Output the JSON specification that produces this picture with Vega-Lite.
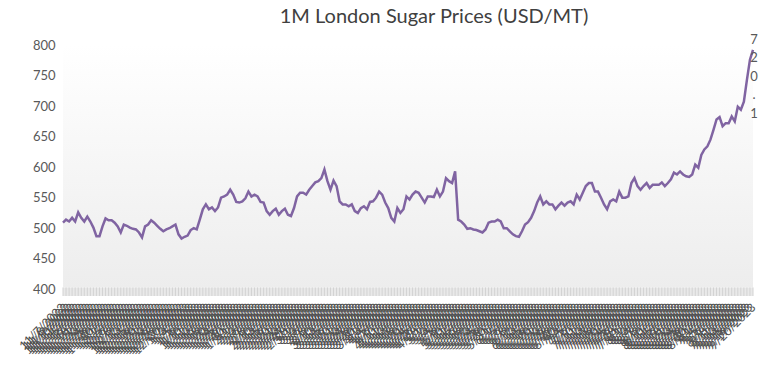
{
  "$schema": "https://vega.github.io/schema/vega-lite/v6.json",
  "width": 690,
  "height": 251,
  "autosize": "none",
  "padding": {"left": 63, "top": 45, "right": 22, "bottom": 89},
  "background": "white",
  "config": {"view": {"stroke": null}, "font": "Lato", "axisY": {"labelOverlap": false, "domain": false, "ticks": false, "grid": false, "labelFontSize": 13, "labelColor": "#595959", "labelPadding": 8, "labelFont": "Lato", "title": null}},
  "title": {"text": "1M London Sugar Prices (USD/MT)", "fontSize": 20, "fontWeight": "normal", "color": "#404040", "font": "Lato", "offset": 7, "dx": 26, "anchor": "middle"},
  "data": {"values": [
    {"d":"11/7/2022","v":509},{"d":"11/8/2022","v":514},{"d":"11/9/2022","v":511},{"d":"11/10/2022","v":517},{"d":"11/11/2022","v":511},
    {"d":"11/14/2022","v":526},{"d":"11/15/2022","v":517},{"d":"11/16/2022","v":511},{"d":"11/17/2022","v":519},{"d":"11/18/2022","v":511},
    {"d":"11/21/2022","v":501},{"d":"11/22/2022","v":487},{"d":"11/23/2022","v":487},{"d":"11/24/2022","v":503},{"d":"11/25/2022","v":516},
    {"d":"11/28/2022","v":513},{"d":"11/29/2022","v":513},{"d":"11/30/2022","v":509},{"d":"12/1/2022","v":503},{"d":"12/2/2022","v":493},
    {"d":"12/5/2022","v":506},{"d":"12/6/2022","v":504},{"d":"12/7/2022","v":501},{"d":"12/8/2022","v":499},{"d":"12/9/2022","v":498},
    {"d":"12/12/2022","v":493},{"d":"12/13/2022","v":485},{"d":"12/14/2022","v":503},{"d":"12/15/2022","v":506},{"d":"12/16/2022","v":513},
    {"d":"12/19/2022","v":509},{"d":"12/20/2022","v":504},{"d":"12/21/2022","v":499},{"d":"12/22/2022","v":495},{"d":"12/23/2022","v":498},
    {"d":"12/26/2022","v":500},{"d":"12/27/2022","v":503},{"d":"12/28/2022","v":506},{"d":"12/29/2022","v":490},{"d":"12/30/2022","v":483},
    {"d":"1/2/2023","v":486},{"d":"1/3/2023","v":488},{"d":"1/4/2023","v":497},{"d":"1/5/2023","v":500},{"d":"1/6/2023","v":498},
    {"d":"1/9/2023","v":514},{"d":"1/10/2023","v":531},{"d":"1/11/2023","v":539},{"d":"1/12/2023","v":531},{"d":"1/13/2023","v":534},
    {"d":"1/16/2023","v":528},{"d":"1/17/2023","v":534},{"d":"1/18/2023","v":550},{"d":"1/19/2023","v":552},{"d":"1/20/2023","v":555},
    {"d":"1/23/2023","v":563},{"d":"1/24/2023","v":555},{"d":"1/25/2023","v":543},{"d":"1/26/2023","v":542},{"d":"1/27/2023","v":544},
    {"d":"1/30/2023","v":549},{"d":"1/31/2023","v":560},{"d":"2/1/2023","v":552},{"d":"2/2/2023","v":555},{"d":"2/3/2023","v":552},
    {"d":"2/6/2023","v":543},{"d":"2/7/2023","v":542},{"d":"2/8/2023","v":528},{"d":"2/9/2023","v":522},{"d":"2/10/2023","v":528},
    {"d":"2/13/2023","v":532},{"d":"2/14/2023","v":522},{"d":"2/15/2023","v":528},{"d":"2/16/2023","v":532},{"d":"2/17/2023","v":522},
    {"d":"2/20/2023","v":520},{"d":"2/21/2023","v":533},{"d":"2/22/2023","v":552},{"d":"2/23/2023","v":558},{"d":"2/24/2023","v":558},
    {"d":"2/27/2023","v":555},{"d":"2/28/2023","v":563},{"d":"3/1/2023","v":569},{"d":"3/2/2023","v":575},{"d":"3/3/2023","v":577},
    {"d":"3/6/2023","v":582},{"d":"3/7/2023","v":596},{"d":"3/8/2023","v":577},{"d":"3/9/2023","v":563},{"d":"3/10/2023","v":578},
    {"d":"3/13/2023","v":569},{"d":"3/14/2023","v":544},{"d":"3/15/2023","v":539},{"d":"3/16/2023","v":539},{"d":"3/17/2023","v":536},
    {"d":"3/20/2023","v":539},{"d":"3/21/2023","v":528},{"d":"3/22/2023","v":525},{"d":"3/23/2023","v":533},{"d":"3/24/2023","v":536},
    {"d":"3/27/2023","v":531},{"d":"3/28/2023","v":543},{"d":"3/29/2023","v":544},{"d":"3/30/2023","v":550},{"d":"3/31/2023","v":560},
    {"d":"4/3/2023","v":555},{"d":"4/4/2023","v":542},{"d":"4/5/2023","v":533},{"d":"4/6/2023","v":517},{"d":"4/7/2023","v":511},
    {"d":"4/10/2023","v":533},{"d":"4/11/2023","v":525},{"d":"4/12/2023","v":531},{"d":"4/13/2023","v":552},{"d":"4/14/2023","v":547},
    {"d":"4/17/2023","v":555},{"d":"4/18/2023","v":560},{"d":"4/19/2023","v":558},{"d":"4/20/2023","v":550},{"d":"4/21/2023","v":542},
    {"d":"4/24/2023","v":552},{"d":"4/25/2023","v":552},{"d":"4/26/2023","v":551},{"d":"4/27/2023","v":563},{"d":"4/28/2023","v":552},
    {"d":"5/1/2023","v":560},{"d":"5/2/2023","v":582},{"d":"5/3/2023","v":577},{"d":"5/4/2023","v":574},{"d":"5/5/2023","v":593},
    {"d":"5/8/2023","v":514},{"d":"5/9/2023","v":511},{"d":"5/10/2023","v":506},{"d":"5/11/2023","v":499},{"d":"5/12/2023","v":500},
    {"d":"5/15/2023","v":498},{"d":"5/16/2023","v":497},{"d":"5/17/2023","v":495},{"d":"5/18/2023","v":493},{"d":"5/19/2023","v":498},
    {"d":"5/22/2023","v":509},{"d":"5/23/2023","v":511},{"d":"5/24/2023","v":511},{"d":"5/25/2023","v":514},{"d":"5/26/2023","v":511},
    {"d":"5/29/2023","v":500},{"d":"5/30/2023","v":500},{"d":"5/31/2023","v":495},{"d":"6/1/2023","v":490},{"d":"6/2/2023","v":487},
    {"d":"6/5/2023","v":486},{"d":"6/6/2023","v":495},{"d":"6/7/2023","v":506},{"d":"6/8/2023","v":510},{"d":"6/9/2023","v":517},
    {"d":"6/12/2023","v":528},{"d":"6/13/2023","v":542},{"d":"6/14/2023","v":552},{"d":"6/15/2023","v":539},{"d":"6/16/2023","v":544},
    {"d":"6/19/2023","v":539},{"d":"6/20/2023","v":539},{"d":"6/21/2023","v":531},{"d":"6/22/2023","v":537},{"d":"6/23/2023","v":542},
    {"d":"6/26/2023","v":537},{"d":"6/27/2023","v":542},{"d":"6/28/2023","v":544},{"d":"6/29/2023","v":539},{"d":"6/30/2023","v":555},
    {"d":"7/3/2023","v":547},{"d":"7/4/2023","v":558},{"d":"7/5/2023","v":569},{"d":"7/6/2023","v":574},{"d":"7/7/2023","v":574},
    {"d":"7/10/2023","v":560},{"d":"7/11/2023","v":560},{"d":"7/12/2023","v":550},{"d":"7/13/2023","v":539},{"d":"7/14/2023","v":531},
    {"d":"7/17/2023","v":544},{"d":"7/18/2023","v":547},{"d":"7/19/2023","v":544},{"d":"7/20/2023","v":560},{"d":"7/21/2023","v":550},
    {"d":"7/24/2023","v":550},{"d":"7/25/2023","v":552},{"d":"7/26/2023","v":574},{"d":"7/27/2023","v":582},{"d":"7/28/2023","v":569},
    {"d":"7/31/2023","v":563},{"d":"8/1/2023","v":569},{"d":"8/2/2023","v":574},{"d":"8/3/2023","v":566},{"d":"8/4/2023","v":571},
    {"d":"8/7/2023","v":571},{"d":"8/8/2023","v":571},{"d":"8/9/2023","v":575},{"d":"8/10/2023","v":569},{"d":"8/11/2023","v":574},
    {"d":"8/14/2023","v":580},{"d":"8/15/2023","v":591},{"d":"8/16/2023","v":588},{"d":"8/17/2023","v":593},{"d":"8/18/2023","v":588},
    {"d":"8/21/2023","v":585},{"d":"8/22/2023","v":584},{"d":"8/23/2023","v":588},{"d":"8/24/2023","v":604},{"d":"8/25/2023","v":599},
    {"d":"8/28/2023","v":620},{"d":"8/29/2023","v":629},{"d":"8/30/2023","v":634},{"d":"8/31/2023","v":645},{"d":"9/1/2023","v":661},
    {"d":"9/4/2023","v":678},{"d":"9/5/2023","v":682},{"d":"9/6/2023","v":667},{"d":"9/7/2023","v":672},{"d":"9/8/2023","v":672},
    {"d":"9/11/2023","v":683},{"d":"9/12/2023","v":675},{"d":"9/13/2023","v":699},{"d":"9/14/2023","v":694},{"d":"9/15/2023","v":707},
    {"d":"9/18/2023","v":743},{"d":"9/19/2023","v":776},{"d":"9/20/2023","v":792}
  ]},
  "layer": [
    {
      "data": {"values": [{}]},
      "mark": {"type": "rect", "fill": {"gradient": "linear", "x1": 0, "y1": 0, "x2": 0, "y2": 1, "stops": [{"offset": 0, "color": "#ffffff"}, {"offset": 1, "color": "#ededed"}]}},
      "encoding": {
        "y": {"datum": 800, "type": "quantitative", "scale": {"domain": [389, 800], "nice": false, "zero": false}, "axis": {"values": [400, 450, 500, 550, 600, 650, 700, 750, 800]}},
        "y2": {"datum": 403}
      }
    },
    {
      "data": {"values": [{}]},
      "mark": {"type": "rect", "fill": "#e9e9e9"},
      "encoding": {
        "y": {"datum": 403, "type": "quantitative", "axis": {"values": [400, 450, 500, 550, 600, 650, 700, 750, 800]}},
        "y2": {"datum": 389}
      }
    },
    {
      "mark": {"type": "rule", "color": "#d3d3d3", "strokeWidth": 1},
      "encoding": {
        "x": {"field": "d", "type": "ordinal", "sort": null},
        "y": {"datum": 403, "type": "quantitative", "axis": {"values": [400, 450, 500, 550, 600, 650, 700, 750, 800]}},
        "y2": {"datum": 389}
      }
    },
    {
      "mark": {"type": "line", "color": "#8064A2", "strokeWidth": 2.5},
      "encoding": {
        "x": {"field": "d", "type": "ordinal", "sort": null, "scale": {"type": "point", "padding": 0}, "axis": {"title": null, "labelAngle": -45, "labelFontSize": 12, "labelColor": "#505050", "labelOverlap": false, "labelPadding": 9, "ticks": false, "domain": false, "grid": false, "labelBound": false, "labelFlush": false, "labelFont": "Lato"}},
        "y": {"field": "v", "type": "quantitative", "axis": {"values": [400, 450, 500, 550, 600, 650, 700, 750, 800]}}
      }
    },
    {
      "data": {"values": [{"d": "9/20/2023", "v": 792, "label": "7\n2\n0\n.\n1"}]},
      "mark": {"type": "text", "align": "center", "baseline": "top", "dy": -16, "dx": 1, "fontSize": 13, "lineHeight": 18.5, "lineBreak": "\n", "color": "#595959", "font": "Lato"},
      "encoding": {
        "x": {"field": "d", "type": "ordinal", "sort": null},
        "y": {"field": "v", "type": "quantitative", "axis": {"values": [400, 450, 500, 550, 600, 650, 700, 750, 800]}},
        "text": {"field": "label"}
      }
    }
  ]
}
